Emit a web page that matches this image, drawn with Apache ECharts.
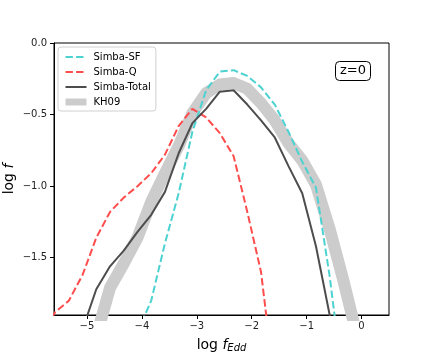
<!DOCTYPE html>
<html lang="en">
<head>
  <meta charset="UTF-8">
  <title>Eddington ratio distribution</title>
  <script src="https://cdn.jsdelivr.net/npm/echarts@6/dist/echarts.min.js"></script>
  <style>
    * { margin: 0; padding: 0; }
    body { background: #fff; }
    #chart { width: 432px; height: 360px; }
  </style>
</head>
<body>
  <div id="chart"></div>
  <script>
    // log f_Edd bin centres (shared by all curves)
    const logFedd = [-5.83, -5.58, -5.33, -5.08, -4.83, -4.58, -4.33, -4.08, -3.83, -3.58, -3.33, -3.08,
                     -2.83, -2.58, -2.33, -2.08, -1.83, -1.58, -1.33, -1.08, -0.83, -0.58, -0.33, -0.08];

    // log f for each population (null = no value / off chart)
    const simbaSF = [null, null, null, null, null, null, null, -2.02, -1.80, -1.40, -1.05, -0.62,
                     -0.33, -0.20, -0.19, -0.23, -0.31, -0.43, -0.62, -0.83, -1.01, -1.63, -2.40, null];
    const simbaQ = [-2.05, -1.88, -1.80, -1.62, -1.36, -1.18, -1.08, -1.00, -0.91, -0.78, -0.58, -0.46,
                    -0.52, -0.63, -0.79, -1.18, -1.60, -2.40, null, null, null, null, null, null];
    const simbaTotal = [null, null, null, -2.00, -1.72, -1.56, -1.45, -1.32, -1.20, -1.04, -0.77, -0.56,
                        -0.46, -0.34, -0.33, -0.43, -0.54, -0.66, -0.86, -1.05, -1.42, -1.90, -2.50, null];
    const kh09 = [null, null, null, null, -2.05, -1.71, -1.54, -1.36, -1.11, -0.91, -0.72, -0.49,
                  -0.35, -0.29, -0.28, -0.32, -0.42, -0.54, -0.70, -0.82, -0.99, -1.30, -1.66, -2.05];

    const xTicks = [-5, -4, -3, -2, -1, 0];
    const yTicks = [-1.5, -1.0, -0.5, 0.0];

    const pairs = ys => logFedd.map((x, i) => [x, ys[i]]);
    const minus = s => String(s).replace('-', '\u2212');
    const font = 'DejaVu Sans';

    const chart = echarts.init(document.getElementById('chart'));

    const option = {
      animation: false,
      textStyle: { fontFamily: font },
      title: {
        text: 'z=0',
        right: 61,
        top: 61,
        padding: [3, 5, 4, 5],
        borderColor: '#000',
        borderWidth: 1,
        borderRadius: 4,
        textStyle: { fontFamily: font, fontSize: 13, fontWeight: 'normal', color: '#000' }
      },
      legend: {
        orient: 'vertical',
        left: 58,
        top: 47,
        padding: [5, 5, 4, 4],
        itemWidth: 21,
        itemHeight: 10,
        itemGap: 5,
        backgroundColor: '#fff',
        borderColor: '#d0d0d0',
        borderWidth: 1,
        borderRadius: 3,
        itemStyle: { opacity: 0 },
        lineStyle: { width: 'inherit' },
        textStyle: { fontFamily: font, fontSize: 10, color: '#000', padding: [0, 0, 0, 2] },
        data: [
          { name: 'Simba-SF' },
          { name: 'Simba-Q' },
          { name: 'Simba-Total' },
          { name: 'KH09', lineStyle: { width: 7 } }
        ]
      },
      grid: {
        left: 54,
        right: 43,
        top: 43,
        bottom: 45,
        containLabel: false,
        outerBoundsMode: 'none',
        show: true,
        borderColor: '#000',
        borderWidth: 1
      },
      xAxis: {
        type: 'value',
        min: -5.6,
        max: 0.5,
        name: '{n|log }{i|f}{s|Edd}',
        nameLocation: 'middle',
        nameGap: 22,
        nameMoveOverlap: false,
        nameTextStyle: {
          rich: {
            n: { fontFamily: font, fontSize: 14, color: '#000' },
            i: { fontFamily: font, fontSize: 14, fontStyle: 'italic', color: '#000' },
            s: { fontFamily: font, fontSize: 10, fontStyle: 'italic', color: '#000', padding: [6, 0, 0, 0] }
          }
        },
        axisLine: { onZero: false, lineStyle: { color: '#000', width: 1 } },
        axisTick: { inside: false, length: 4, lineStyle: { color: '#000' }, customValues: xTicks },
        axisLabel: {
          fontFamily: font, fontSize: 10, color: '#222', margin: 6,
          customValues: xTicks,
          formatter: v => minus(v)
        },
        splitLine: { show: false }
      },
      yAxis: {
        type: 'value',
        min: -1.9,
        max: 0,
        name: '{n|log }{i|f}',
        nameLocation: 'middle',
        nameRotate: 90,
        nameGap: 38,
        nameMoveOverlap: false,
        nameTextStyle: {
          rich: {
            n: { fontFamily: font, fontSize: 14, color: '#000' },
            i: { fontFamily: font, fontSize: 14, fontStyle: 'italic', color: '#000' }
          }
        },
        axisLine: { show: true, onZero: false, lineStyle: { color: '#000', width: 1 } },
        axisTick: { show: true, inside: false, length: 4, lineStyle: { color: '#000' }, customValues: yTicks },
        axisLabel: {
          fontFamily: font, fontSize: 10, color: '#222', margin: 7,
          customValues: yTicks,
          formatter: v => minus(v.toFixed(1))
        },
        splitLine: { show: false }
      },
      series: [
        {
          name: 'Simba-SF',
          type: 'line',
          data: pairs(simbaSF),
          symbol: 'none',
          z: 3,
          lineStyle: { color: '#4dd2d2', width: 2, type: [7.4, 3.2] },
          itemStyle: { color: '#4dd2d2' }
        },
        {
          name: 'Simba-Q',
          type: 'line',
          data: pairs(simbaQ),
          symbol: 'none',
          z: 3,
          lineStyle: { color: '#ff4d4d', width: 2, type: [7.4, 3.2] },
          itemStyle: { color: '#ff4d4d' }
        },
        {
          name: 'Simba-Total',
          type: 'line',
          data: pairs(simbaTotal),
          symbol: 'none',
          z: 4,
          lineStyle: { color: '#4d4d4d', width: 2 },
          itemStyle: { color: '#4d4d4d' }
        },
        {
          name: 'KH09',
          type: 'line',
          data: pairs(kh09),
          symbol: 'none',
          z: 2,
          lineStyle: { color: '#cccccc', width: 12, join: 'round' },
          itemStyle: { color: '#cccccc' }
        }
      ]
    };

    chart.setOption(option);
  </script>
</body>
</html>
